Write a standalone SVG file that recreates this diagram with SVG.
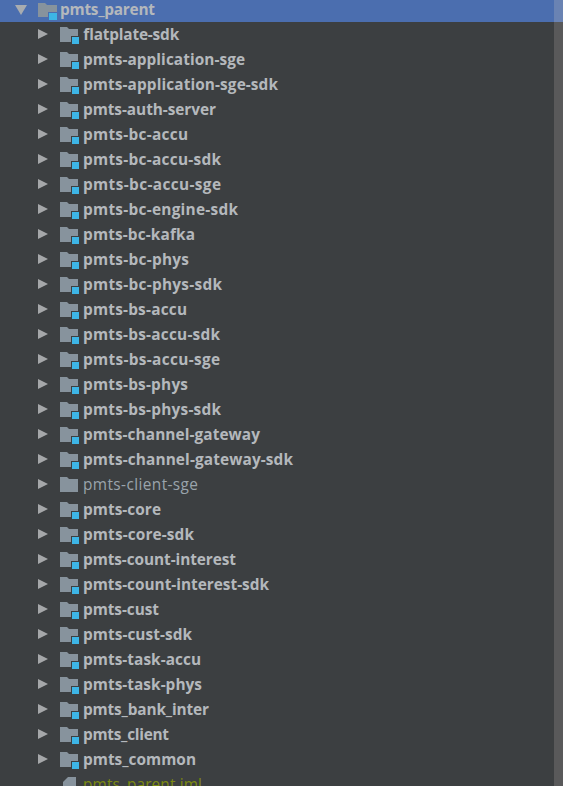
<svg xmlns="http://www.w3.org/2000/svg" width="563" height="786" viewBox="0 0 563 786">
<style>
text{font-family:"Open Sans","Noto Sans","DejaVu Sans",sans-serif;font-size:15.4px;fill:#b4b8bc;lengthAdjust:spacing}
.b{font-weight:700}
.n{font-weight:400;fill:#9aa4ac}
.a{fill:#a5a7a9}
.f{fill:#87939d}
.c{fill:#3db5e6;stroke:#3c3f41;stroke-width:1}
</style>
<defs>
<polygon id="arrow" class="a" points="38,-5 38,5 48,0"/>
<path id="folder" class="f" d="M60,-7h7l2,2h9v13h-18z"/>
<g id="mod"><use href="#arrow"/><use href="#folder"/><rect class="c" x="71.5" y="2.5" width="8" height="8"/></g>
</defs>
<rect width="563" height="786" fill="#3c3f41"/>
<rect x="554" y="0" width="9" height="786" fill="#59595a"/>
<rect width="563" height="22" fill="#4b6eaf"/>
<rect x="554" y="0" width="9" height="22" fill="#6a83b3"/>
<g id="root" transform="translate(0,9)"><polygon points="15,-4 27,-4 21,6" fill="#a8acb0"/><path class="f" d="M38,-6h7l2,2h10v12h-19z"/><rect x="48.500" y="3.500" width="9" height="8" style="fill:#3db5e6;stroke:#4b6eaf;stroke-width:1"/><text class="b" x="60" y="6" textLength="95">pmts_parent</text></g>
<g id="n1" transform="translate(0,34)"><use href="#mod"/><text class="b" x="83" y="6" textLength="96">flatplate-sdk</text></g>
<g id="n2" transform="translate(0,59)"><use href="#mod"/><text class="b" x="83" y="6" textLength="162">pmts-application-sge</text></g>
<g id="n3" transform="translate(0,84)"><use href="#mod"/><text class="b" x="83" y="6" textLength="195">pmts-application-sge-sdk</text></g>
<g id="n4" transform="translate(0,109)"><use href="#mod"/><text class="b" x="83" y="6" textLength="133">pmts-auth-server</text></g>
<g id="n5" transform="translate(0,134)"><use href="#mod"/><text class="b" x="83" y="6" textLength="105">pmts-bc-accu</text></g>
<g id="n6" transform="translate(0,159)"><use href="#mod"/><text class="b" x="83" y="6" textLength="138">pmts-bc-accu-sdk</text></g>
<g id="n7" transform="translate(0,184)"><use href="#mod"/><text class="b" x="83" y="6" textLength="138">pmts-bc-accu-sge</text></g>
<g id="n8" transform="translate(0,209)"><use href="#mod"/><text class="b" x="83" y="6" textLength="155">pmts-bc-engine-sdk</text></g>
<g id="n9" transform="translate(0,234)"><use href="#mod"/><text class="b" x="83" y="6" textLength="112">pmts-bc-kafka</text></g>
<g id="n10" transform="translate(0,259)"><use href="#mod"/><text class="b" x="83" y="6" textLength="106">pmts-bc-phys</text></g>
<g id="n11" transform="translate(0,284)"><use href="#mod"/><text class="b" x="83" y="6" textLength="139">pmts-bc-phys-sdk</text></g>
<g id="n12" transform="translate(0,309)"><use href="#mod"/><text class="b" x="83" y="6" textLength="104">pmts-bs-accu</text></g>
<g id="n13" transform="translate(0,334)"><use href="#mod"/><text class="b" x="83" y="6" textLength="137">pmts-bs-accu-sdk</text></g>
<g id="n14" transform="translate(0,359)"><use href="#mod"/><text class="b" x="83" y="6" textLength="137">pmts-bs-accu-sge</text></g>
<g id="n15" transform="translate(0,384)"><use href="#mod"/><text class="b" x="83" y="6" textLength="105">pmts-bs-phys</text></g>
<g id="n16" transform="translate(0,409)"><use href="#mod"/><text class="b" x="83" y="6" textLength="138">pmts-bs-phys-sdk</text></g>
<g id="n17" transform="translate(0,434)"><use href="#mod"/><text class="b" x="83" y="6" textLength="177">pmts-channel-gateway</text></g>
<g id="n18" transform="translate(0,459)"><use href="#mod"/><text class="b" x="83" y="6" textLength="210">pmts-channel-gateway-sdk</text></g>
<g id="n19" transform="translate(0,484)"><use href="#arrow"/><use href="#folder"/><text class="n" x="83" y="6" textLength="115">pmts-client-sge</text></g>
<g id="n20" transform="translate(0,509)"><use href="#mod"/><text class="b" x="83" y="6" textLength="78">pmts-core</text></g>
<g id="n21" transform="translate(0,534)"><use href="#mod"/><text class="b" x="83" y="6" textLength="111">pmts-core-sdk</text></g>
<g id="n22" transform="translate(0,559)"><use href="#mod"/><text class="b" x="83" y="6" textLength="153">pmts-count-interest</text></g>
<g id="n23" transform="translate(0,584)"><use href="#mod"/><text class="b" x="83" y="6" textLength="186">pmts-count-interest-sdk</text></g>
<g id="n24" transform="translate(0,609)"><use href="#mod"/><text class="b" x="83" y="6" textLength="76">pmts-cust</text></g>
<g id="n25" transform="translate(0,634)"><use href="#mod"/><text class="b" x="83" y="6" textLength="109">pmts-cust-sdk</text></g>
<g id="n26" transform="translate(0,659)"><use href="#mod"/><text class="b" x="83" y="6" textLength="118">pmts-task-accu</text></g>
<g id="n27" transform="translate(0,684)"><use href="#mod"/><text class="b" x="83" y="6" textLength="119">pmts-task-phys</text></g>
<g id="n28" transform="translate(0,709)"><use href="#mod"/><text class="b" x="83" y="6" textLength="126">pmts_bank_inter</text></g>
<g id="n29" transform="translate(0,734)"><use href="#mod"/><text class="b" x="83" y="6" textLength="86">pmts_client</text></g>
<g id="n30" transform="translate(0,759)"><use href="#mod"/><text class="b" x="83" y="6" textLength="113">pmts_common</text></g>
<g id="n31" transform="translate(0,784)"><path class="f" d="M68,-7h8v13h-13v-8z"/><text x="83" y="6" textLength="119" style="fill:#7c8a10">pmts_parent.iml</text></g>
<g id="connectors"/>
</svg>
